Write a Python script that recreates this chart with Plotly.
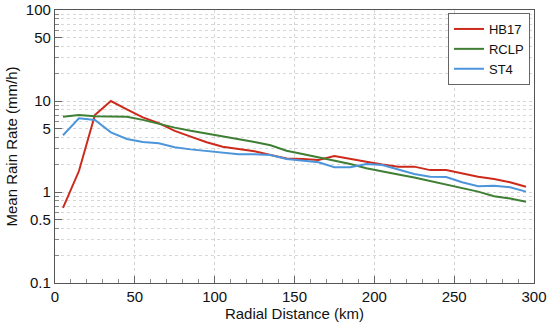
import plotly.graph_objects as go

radial_km = [5, 15, 25, 35, 45, 55, 65, 75, 85, 95, 105, 115, 125, 135, 145,
             155, 165, 175, 185, 195, 205, 215, 225, 235, 245, 255, 265, 275, 285, 295]

hb17 = [0.67, 1.70, 7.0, 10.0, 8.1, 6.6, 5.7, 4.7, 4.06, 3.52, 3.14, 2.94, 2.80, 2.55, 2.33,
        2.30, 2.25, 2.49, 2.30, 2.15, 2.01, 1.90, 1.90, 1.74, 1.74, 1.60, 1.47, 1.39, 1.28, 1.14]

rclp = [6.7, 7.0, 6.8, 6.8, 6.7, 6.2, 5.6, 5.1, 4.7, 4.4, 4.1, 3.8, 3.55, 3.26, 2.84,
        2.61, 2.40, 2.25, 2.03, 1.82, 1.67, 1.56, 1.44, 1.32, 1.21, 1.10, 1.01, 0.90, 0.85, 0.78]

st4 = [4.2, 6.45, 6.2, 4.52, 3.83, 3.55, 3.43, 3.10, 2.94, 2.82, 2.70, 2.60, 2.60, 2.55, 2.30,
       2.21, 2.12, 1.87, 1.87, 2.03, 1.98, 1.77, 1.58, 1.47, 1.46, 1.28, 1.16, 1.17, 1.13, 1.01]

y_tick_vals = [0.1, 0.5, 1, 5, 10, 50, 100]
y_tick_text = ["0.1", "0.5", "1", "5", "10", "50", "100"]
x_tick_vals = [0, 50, 100, 150, 200, 250, 300]

y_minor = [m * d for d in (0.1, 1, 10) for m in range(1, 10)] + [100]

fig = go.Figure()
fig.add_trace(go.Scatter(x=radial_km, y=hb17, mode="lines", name="HB17",
                         line=dict(color="#cc2a1a", width=2)))
fig.add_trace(go.Scatter(x=radial_km, y=rclp, mode="lines", name="RCLP",
                         line=dict(color="#3f7f34", width=2)))
fig.add_trace(go.Scatter(x=radial_km, y=st4, mode="lines", name="ST4",
                         line=dict(color="#4d95db", width=2)))

font_family = "Liberation Sans, Arial, sans-serif"

fig.update_layout(
    width=550, height=327,
    margin=dict(l=55, r=16, t=10, b=44),
    paper_bgcolor="white", plot_bgcolor="white",
    font=dict(family=font_family, size=15, color="#111"),
    showlegend=True,
    legend=dict(x=0.9916, y=0.989, xanchor="right", yanchor="top",
                bgcolor="white", bordercolor="#666", borderwidth=1,
                font=dict(size=13), tracegroupgap=0, itemwidth=30),
    xaxis=dict(
        range=[0, 300], tickvals=x_tick_vals, automargin=False,
        ticks="inside", ticklen=7, tickcolor="#666", tickwidth=1,
        showline=True, linecolor="#555", linewidth=1.2, mirror=True,
        showgrid=True, gridcolor="#d4d4d4", griddash="dot", gridwidth=1,
        zeroline=False,
        title=dict(text="Radial Distance (km)", standoff=3, font=dict(size=15)),
        minor=dict(dtick=10, tick0=0, ticks="inside", ticklen=4, tickcolor="#888",
                   showgrid=False),
        tickfont=dict(size=15),
    ),
    yaxis=dict(
        type="log", range=[-1, 2], automargin=False,
        tickmode="array", tickvals=y_tick_vals, ticktext=y_tick_text,
        ticks="inside", ticklen=7, tickcolor="#666", tickwidth=1,
        showline=True, linecolor="#555", linewidth=1.2, mirror=True,
        showgrid=True, gridcolor="#d4d4d4", griddash="dot", gridwidth=1,
        zeroline=False,
        title=dict(text="Mean Rain Rate (mm/h)", standoff=4, font=dict(size=15)),
        minor=dict(tickmode="array", tickvals=y_minor, ticks="inside", ticklen=4,
                   tickcolor="#888", showgrid=True, gridcolor="#d8d8d8",
                   griddash="dot", gridwidth=1),
        tickfont=dict(size=15),
    ),
)

fig.write_html("out.html", config={"displayModeBar": False},
               post_script="document.body.style.margin='0';")
